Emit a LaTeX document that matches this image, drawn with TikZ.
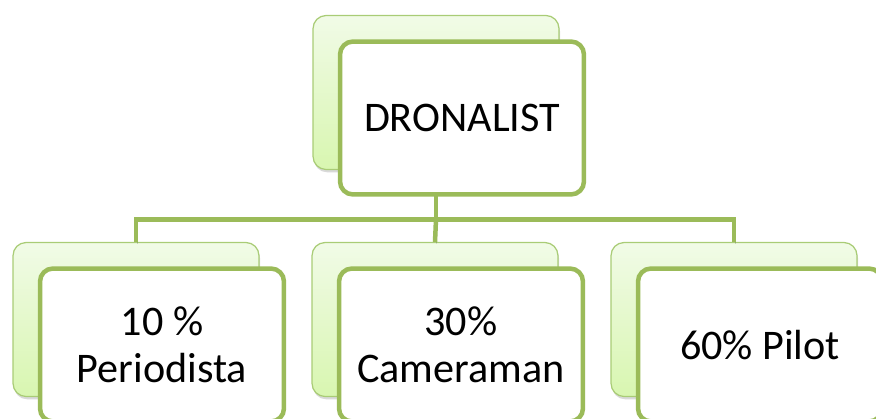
\documentclass[tikz,border=0pt]{standalone}
\usepackage{fontspec}
\setmainfont{Carlito}
\usetikzlibrary{shadows}

\definecolor{leafgreen}{HTML}{9BBB59}
\definecolor{backline}{HTML}{A9CC76}
\definecolor{backtop}{HTML}{F1FBE7}
\definecolor{backbot}{HTML}{D8F6B0}

\begin{document}
\begin{tikzpicture}[
   x=0.02cm, y=-0.02cm,                     % one unit = one pixel of the sketch
   backbox/.style={draw=backline, line width=0.7pt, rounded corners=0.26cm,
      top color=backtop, bottom color=backbot,
      minimum width=4.92cm, minimum height=3.08cm,
      drop shadow={shadow xshift=0.6pt, shadow yshift=-1.6pt, opacity=0.25, fill=black!60}},
   frontbox/.style={draw=leafgreen, line width=0.09cm, rounded corners=0.26cm, fill=white,
      minimum width=4.88cm, minimum height=3.06cm, align=center,
      font=\fontsize{24}{26.5}\selectfont},
   link/.style={draw=leafgreen, line width=0.09cm,
      preaction={draw=black, opacity=0.15, transform canvas={shift={(0.8pt,-1pt)}}}}
]

% --- page frame (the two right/bottom cards run off the edge)
\useasboundingbox (0,0) rectangle (876,419);
\clip (0,0) rectangle (876,419);

% --- back cards (light green, shaded)
\node[backbox] (dronback) at (436,92.5)  {};
\node[backbox] (perback)  at (136,319.5) {};
\node[backbox] (camback)  at (435,319.5) {};
\node[backbox] (pilback)  at (734,319.5) {};

% --- connectors: one fork under the root, three drops to the cards
\coordinate (fork) at (436,219.5);

\draw[link] (dronback.south) -- (fork);
\draw[link] (perback.north) |- (fork) -| (pilback.north);
\draw[link] (fork) -- (camback.north);

% --- front cards with the texts
\node[frontbox] (dron) at ([shift={(26,25.5)}]dronback.center) {DRONALIST};
\node[frontbox] (per)  at ([shift={(26,25.5)}]perback.center)  {10 \%\\Periodista};
\node[frontbox] (cam)  at ([shift={(26,25.5)}]camback.center)  {30\%\\Cameraman};
\node[frontbox] (pil)  at ([shift={(26,25.5)}]pilback.center)  {60\% Pilot};

\end{tikzpicture}
\end{document}
